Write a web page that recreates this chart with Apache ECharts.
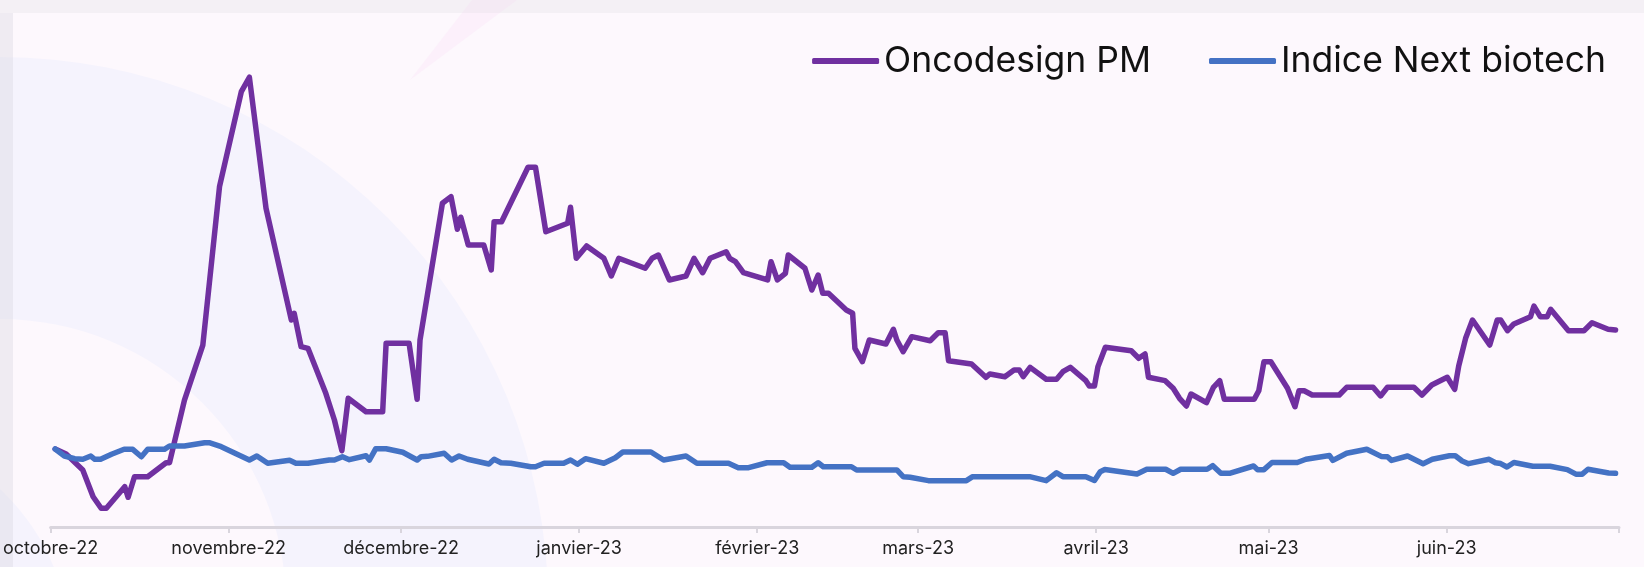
<!DOCTYPE html>
<html>
<head>
<meta charset="utf-8">
<script src="https://cdn.jsdelivr.net/npm/echarts@6/dist/echarts.min.js"></script>
<style>
  html, body { margin: 0; padding: 0; background: #fdf8fd; }
  #chart { width: 1644px; height: 567px; }
</style>
</head>
<body>
<div id="chart"></div>
<script>
// axe des x : jours depuis le 1er octobre 2022
const monthTicks = [0, 31, 61, 92, 123, 151, 182, 212, 243]
const monthLabels = ['octobre-22', 'novembre-22', 'décembre-22', 'janvier-23', 'février-23',
  'mars-23', 'avril-23', 'mai-23', 'juin-23']
const axisEnd = 273

// Oncodesign PM (base 100)
const oncoDays = [0.8, 2.7, 5.6, 7.4, 8.8, 9.7, 12.9, 13.5, 14.6, 16.9, 20.1, 20.7, 23.3, 26.5, 29.4, 33.2, 34.6,
  37.5, 41.9, 42.4, 43.6, 44.8, 47.9, 49.4, 50.7, 51.8, 54.9, 57.8, 58.4, 62.4, 63.8, 64.3, 68.2, 69.7, 70.8,
  71.4, 72.7, 75.4, 76.7, 77.2, 78.5, 83.1, 84.4, 86.2, 90.0, 90.5, 91.5, 93.3, 96.3, 97.6, 98.9, 103.5, 104.7,
  105.8, 107.7, 110.6, 112.0, 113.5, 114.8, 117.6, 118.2, 119.2, 120.6, 124.8, 125.4, 126.5, 127.9, 128.4,
  131.3, 132.5, 133.6, 134.4, 135.4, 138.5, 139.6, 140.0, 141.3, 142.5, 145.4, 146.7, 147.3, 148.4, 149.9,
  153.1, 154.5, 155.7, 156.3, 160.3, 162.8, 163.5, 166.1, 167.7, 168.6, 169.3, 170.5, 173.3, 175.1, 176.2,
  177.5, 180.2, 180.8, 181.7, 182.3, 183.6, 188.1, 189.4, 190.5, 191.1, 194.0, 195.4, 196.5, 197.7, 198.5,
  201.2, 202.4, 203.5, 204.3, 209.5, 210.3, 211.2, 212.4, 215.3, 216.6, 217.3, 218.2, 219.6, 224.3, 225.6,
  230.2, 231.5, 232.7, 237.3, 238.7, 240.4, 243.1, 244.4, 245.1, 246.3, 247.5, 250.5, 251.8, 252.4, 253.6,
  254.7, 257.6, 258.2, 259.3, 260.5, 261.1, 264.2, 266.9, 268.3, 271.1, 272.4]
const oncoValues = [100, 93.6, 73.1, 38.8, 24.0, 24.0, 51.7, 38.1, 64.5, 64.5, 82.4, 82.4, 162.8, 233.3, 436.3,
  558.1, 576.6, 408.6, 265.4, 274.0, 231.2, 229.1, 171.4, 137.2, 97.8, 165.0, 147.8, 147.8, 235.5, 235.5,
  163.7, 239.7, 415.0, 423.5, 381.7, 397.1, 361.5, 361.5, 329.5, 391.4, 391.4, 461.2, 461.2, 378.6, 389.4,
  409.9, 344.5, 360.3, 344.5, 321.8, 344.5, 331.7, 344.5, 348.7, 316.7, 321.8, 344.5, 326.0, 344.5, 352.9,
  344.5, 340.1, 326.0, 316.7, 340.1, 316.7, 325.3, 348.7, 331.7, 303.8, 323.1, 299.6, 299.6, 278.2, 274.0,
  229.1, 211.9, 239.7, 234.6, 253.5, 239.7, 224.7, 244.0, 238.8, 249.1, 249.1, 213.2, 209.0, 191.9, 196.2,
  192.7, 201.3, 201.3, 192.7, 204.7, 189.4, 189.4, 199.1, 204.7, 187.6, 180.8, 180.8, 205.5, 230.4, 226.0,
  216.3, 221.8, 191.9, 187.6, 177.8, 165.0, 155.1, 170.5, 159.4, 179.1, 187.6, 163.7, 163.7, 174.7, 211.9,
  211.9, 177.8, 154.2, 174.7, 174.7, 169.2, 169.2, 179.1, 179.1, 168.0, 179.1, 179.1, 169.2, 182.1, 191.9,
  176.5, 206.4, 241.9, 265.4, 233.3, 265.4, 265.4, 251.7, 260.3, 269.6, 283.3, 269.6, 269.6, 279.1, 251.7,
  251.7, 261.9, 253.5, 252.6]

// Indice Next biotech (base 100)
const nextDays = [0.8, 2.4, 4.2, 5.6, 7.0, 7.7, 8.7, 10.6, 12.8, 14.3, 15.8, 16.9, 19.8, 20.7, 23.3, 26.8, 27.6,
  29.7, 34.6, 35.9, 37.8, 41.6, 42.7, 44.8, 48.5, 49.4, 50.8, 52.0, 54.9, 55.5, 56.6, 58.4, 61.3, 63.8, 64.5,
  65.6, 68.5, 69.8, 71.1, 72.6, 76.3, 77.2, 78.4, 80.1, 83.6, 84.4, 85.9, 89.3, 90.5, 91.7, 93.1, 96.3, 98.3,
  99.6, 104.5, 106.7, 110.6, 112.5, 118.0, 119.7, 121.5, 124.7, 127.6, 128.7, 132.5, 133.6, 134.5, 139.4,
  140.3, 147.3, 148.4, 149.6, 152.8, 159.4, 160.5, 170.4, 173.3, 175.1, 176.2, 180.2, 181.7, 182.7, 183.5,
  189.1, 190.8, 194.1, 195.4, 196.7, 201.3, 202.3, 203.7, 205.2, 209.4, 210.1, 211.2, 212.6, 217.0, 218.5,
  222.6, 223.2, 225.6, 229.1, 231.6, 232.7, 233.4, 236.2, 238.9, 240.5, 243.5, 244.5, 245.7, 246.8, 250.4,
  251.5, 252.4, 253.5, 254.7, 258.0, 261.0, 264.0, 265.5, 266.6, 267.6, 271.2, 272.4]
const nextValues = [100, 91.0, 87.6, 86.8, 91.0, 86.8, 86.8, 93.2, 99.6, 99.6, 90.1, 99.6, 99.6, 103.8, 103.8,
  108.1, 108.1, 103.0, 85.9, 91.0, 81.7, 85.5, 81.7, 81.7, 85.9, 85.9, 90.1, 86.3, 91.4, 85.9, 100.4, 100.4,
  95.8, 85.9, 90.1, 90.6, 94.5, 85.9, 91.0, 86.8, 80.8, 86.8, 82.4, 81.7, 77.3, 77.3, 81.7, 81.7, 85.9, 80.4,
  87.6, 81.7, 88.8, 96.2, 96.2, 85.9, 91.0, 81.7, 81.7, 76.0, 76.0, 82.4, 82.4, 76.5, 76.5, 82.4, 77.3, 77.3,
  73.1, 73.1, 64.5, 63.7, 59.4, 59.4, 64.5, 64.5, 59.4, 69.6, 64.5, 64.5, 59.6, 70.9, 73.7, 68.0, 74.0, 74.0,
  68.8, 74.0, 74.0, 78.6, 68.8, 68.8, 78.2, 73.5, 73.5, 82.7, 82.7, 86.8, 91.7, 85.4, 94.5, 99.7, 90.5, 90.1,
  85.4, 91.0, 81.2, 86.8, 91.3, 91.3, 84.6, 81.2, 86.8, 82.4, 81.3, 76.9, 82.7, 77.9, 77.9, 73.6, 67.7, 67.7,
  74.0, 69.2, 68.8]

function pairs(days, values) {
  return days.map((d, i) => [d, values[i]])
}

const chart = echarts.init(document.getElementById('chart'))

chart.setOption({
  backgroundColor: '#fdf8fd',
  animation: false,
  // decor du fond (cercles, bandes)
  graphic: [
    { type: 'circle', silent: true, shape: { cx: 0, cy: 605, r: 548 }, style: { fill: '#f5f3fd' } },
    { type: 'circle', silent: true, shape: { cx: 0, cy: 605, r: 286 }, style: { fill: '#fdf8fd' } },
    { type: 'circle', silent: true, shape: { cx: -150, cy: 650, r: 220 }, style: { fill: '#f5f3fd' } },
    { type: 'polygon', silent: true, shape: { points: [[472, 0], [517, 0], [410, 80]] }, style: { fill: '#fcf0fb' } },
    { type: 'rect', silent: true, shape: { x: 0, y: 0, width: 1644, height: 13 }, style: { fill: 'rgba(222,220,228,0.28)' } },
    { type: 'rect', silent: true, shape: { x: 0, y: 13, width: 13, height: 554 }, style: { fill: 'rgba(222,220,228,0.45)' } }
  ],
  legend: {
    right: 38,
    top: 41,
    padding: 0,
    icon: 'roundRect',
    itemWidth: 67,
    itemHeight: 6,
    itemGap: 58,
    textStyle: { fontFamily: 'Inter', fontSize: 35.5, color: '#111', lineHeight: 40 },
    data: ['Oncodesign PM', 'Indice Next biotech']
  },
  grid: { left: 49, right: 25, top: 59, bottom: 40 },
  xAxis: {
    type: 'value',
    min: 0,
    max: axisEnd,
    splitLine: { show: false },
    axisLine: { lineStyle: { color: '#d9d5dd', width: 3 } },
    axisTick: {
      show: true,
      length: 6,
      customValues: monthTicks.concat([axisEnd]),
      lineStyle: { color: '#d9d5dd', width: 2 }
    },
    axisLabel: {
      customValues: monthTicks,
      formatter: v => monthLabels[monthTicks.indexOf(v)],
      fontFamily: 'Inter',
      fontSize: 18,
      color: '#222',
      margin: 13,
      hideOverlap: false
    }
  },
  yAxis: { type: 'value', min: 0, max: 600, show: false },
  series: [
    {
      name: 'Oncodesign PM',
      type: 'line',
      data: pairs(oncoDays, oncoValues),
      symbol: 'none',
      itemStyle: { color: '#7030a0' },
      lineStyle: { color: '#7030a0', width: 5.5, cap: 'round', join: 'round' }
    },
    {
      name: 'Indice Next biotech',
      type: 'line',
      data: pairs(nextDays, nextValues),
      symbol: 'none',
      itemStyle: { color: '#4472c4' },
      lineStyle: { color: '#4472c4', width: 5.5, cap: 'round', join: 'round' }
    }
  ]
})
</script>
</body>
</html>
